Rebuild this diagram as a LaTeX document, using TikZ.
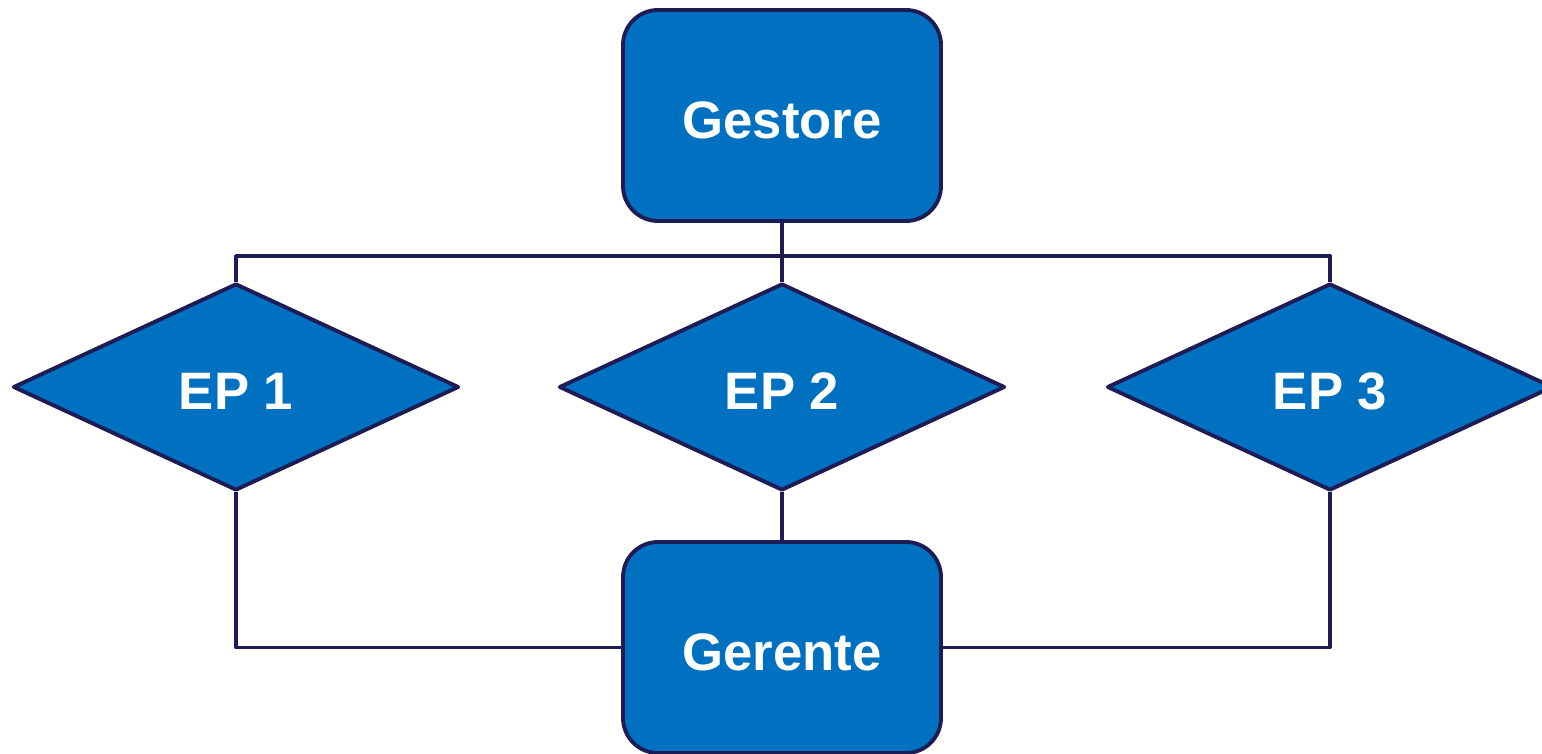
\documentclass[tikz,border=0pt]{standalone}
\usepackage{fontspec}
\setmainfont{Liberation Sans}
\usepackage{xcolor}
\usepackage{tikz}
\usetikzlibrary{shapes.geometric}
\definecolor{fillblue}{HTML}{0070C0}
\definecolor{edgenavy}{RGB}{30,28,85}

\begin{document}
\begin{tikzpicture}[line width=2.2pt, line join=round,
                    font=\fontsize{30}{36}\selectfont\bfseries]
\tikzstyle{role}=[shape=rectangle, rounded corners=0.7cm, draw=edgenavy,
                    fill=fillblue, text=white, minimum width=6.36cm,
                    minimum height=4.22cm, inner sep=0pt,
                    text height=0.92cm, text depth=0cm]
\tikzstyle{ep}=[shape=diamond, draw=edgenavy, fill=fillblue, text=white,
                    aspect=2.15, minimum width=8.92cm, minimum height=4.14cm,
                    inner sep=0pt, text height=0.88cm, text depth=0cm]
  \useasboundingbox (0,0) rectangle (30.84,15.06);
  \node[role] (gestore) at (15.64,12.75) {Gestore};
  \node[ep]   (ep1)     at (4.72,7.32)   {EP 1};
  \node[ep]   (ep2)     at (15.64,7.32)  {EP 2};
  \node[ep]   (ep3)     at (26.60,7.32)  {EP 3};
  \node[role] (gerente) at (15.64,2.11)  {Gerente};
  \coordinate (bus) at (15.64,9.94);
  \draw[edgenavy] (gestore.south) -- (ep2.north);
  \draw[edgenavy] (ep1.north) |- (bus) -| (ep3.north);
  \draw[edgenavy] (ep2.south) -- (gerente.north);
  \draw[edgenavy] (ep1.south) |- (gerente.west);
  \draw[edgenavy] (ep3.south) |- (gerente.east);
\end{tikzpicture}
\end{document}
